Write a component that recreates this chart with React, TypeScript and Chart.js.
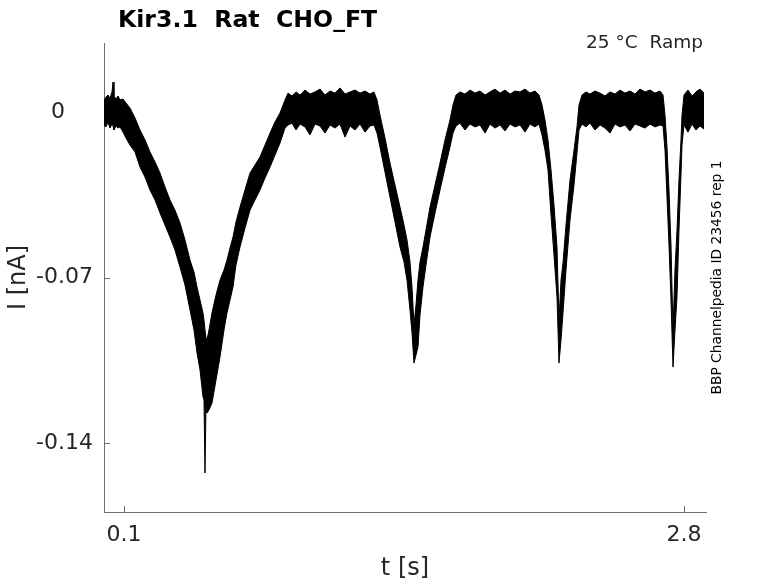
import { useEffect, useRef } from 'react'
import { Chart, registerables } from 'chart.js'

Chart.register(...registerables)

// time [s] and the upper / lower edge of the noisy current trace [nA]
const T = [
  0.0036, 0.0132, 0.0229, 0.0325, 0.0422, 0.0470, 0.0518, 0.0615, 0.0711, 0.0807,
  0.0952, 0.1097, 0.1290, 0.1531, 0.1772, 0.2013, 0.2254, 0.2495, 0.2736, 0.2977,
  0.3218, 0.3459, 0.3700, 0.3941, 0.4182, 0.4375, 0.4520, 0.4665, 0.4809, 0.4857,
  0.4906, 0.4954, 0.5002, 0.5098, 0.5243, 0.5436, 0.5629, 0.5822, 0.5966, 0.6111,
  0.6256, 0.6400, 0.6593, 0.6834, 0.7075, 0.7316, 0.7557, 0.7798, 0.8040, 0.8281,
  0.8522, 0.8763, 0.8907, 0.9100, 0.9293, 0.9486, 0.9727, 0.9968, 1.0209, 1.0450,
  1.0691, 1.0932, 1.1173, 1.1414, 1.1656, 1.1897, 1.2138, 1.2379, 1.2620, 1.2861,
  1.3054, 1.3198, 1.3343, 1.3584, 1.3825, 1.4066, 1.4307, 1.4500, 1.4645, 1.4789,
  1.4886, 1.4982, 1.5079, 1.5175, 1.5272, 1.5416, 1.5561, 1.5754, 1.5995, 1.6236,
  1.6477, 1.6718, 1.6863, 1.7007, 1.7200, 1.7441, 1.7682, 1.7923, 1.8164, 1.8406,
  1.8647, 1.8888, 1.9129, 1.9370, 1.9611, 1.9852, 2.0093, 2.0334, 2.0575, 2.0816,
  2.1009, 2.1154, 2.1298, 2.1443, 2.1588, 2.1732, 2.1877, 2.1973, 2.2070, 2.2166,
  2.2311, 2.2504, 2.2697, 2.2841, 2.2938, 2.3082, 2.3275, 2.3468, 2.3709, 2.3950,
  2.4191, 2.4432, 2.4673, 2.4914, 2.5155, 2.5397, 2.5638, 2.5879, 2.6120, 2.6361,
  2.6602, 2.6843, 2.6988, 2.7084, 2.7180, 2.7277, 2.7373, 2.7470, 2.7566, 2.7663,
  2.7759, 2.7855, 2.7904, 2.8000, 2.8193, 2.8386, 2.8579, 2.8770, 2.8964,
]
const I_HIGH = [
  0.0051, 0.0063, 0.0072, 0.0059, 0.0085, 0.0127, 0.0068, 0.0055, 0.0068, 0.0051,
  0.0055, 0.0038, 0.0017, -0.0025, -0.0076, -0.0118, -0.0169, -0.0211, -0.0258, -0.0317,
  -0.0372, -0.0415, -0.0469, -0.0541, -0.0626, -0.0677, -0.0740, -0.0795, -0.0850, -0.0880,
  -0.0922, -0.0956, -0.0964, -0.0922, -0.0850, -0.0774, -0.0711, -0.0668, -0.0626, -0.0575,
  -0.0529, -0.0465, -0.0402, -0.0330, -0.0258, -0.0224, -0.0190, -0.0140, -0.0089, -0.0042,
  -0.0004, 0.0051, 0.0080, 0.0068, 0.0085, 0.0072, 0.0093, 0.0076, 0.0085, 0.0097,
  0.0072, 0.0089, 0.0080, 0.0102, 0.0076, 0.0085, 0.0093, 0.0080, 0.0089, 0.0076,
  0.0085, 0.0051, -0.0013, -0.0110, -0.0216, -0.0309, -0.0402, -0.0478, -0.0541, -0.0634,
  -0.0740, -0.0901, -0.0816, -0.0711, -0.0634, -0.0571, -0.0499, -0.0402, -0.0309, -0.0216,
  -0.0118, -0.0034, 0.0030, 0.0072, 0.0085, 0.0076, 0.0093, 0.0080, 0.0089, 0.0072,
  0.0085, 0.0097, 0.0080, 0.0093, 0.0076, 0.0089, 0.0085, 0.0097, 0.0080, 0.0089,
  0.0072, 0.0030, -0.0034, -0.0118, -0.0245, -0.0393, -0.0571, -0.0880, -0.0711, -0.0639,
  -0.0478, -0.0288, -0.0161, -0.0063, 0.0030, 0.0072, 0.0085, 0.0076, 0.0089, 0.0080,
  0.0068, 0.0085, 0.0076, 0.0093, 0.0080, 0.0089, 0.0076, 0.0097, 0.0085, 0.0093,
  0.0080, 0.0089, 0.0072, -0.0013, -0.0148, -0.0330, -0.0563, -0.0922, -0.0668, -0.0499,
  -0.0288, -0.0118, -0.0013, 0.0072, 0.0093, 0.0068, 0.0085, 0.0097, 0.0080,
]
const I_LOW = [
  -0.0055, -0.0063, -0.0042, -0.0068, -0.0051, -0.0059, -0.0076, -0.0059, -0.0068, -0.0063,
  -0.0085, -0.0110, -0.0140, -0.0169, -0.0233, -0.0275, -0.0330, -0.0372, -0.0427, -0.0478,
  -0.0529, -0.0584, -0.0656, -0.0732, -0.0837, -0.0922, -0.1019, -0.1091, -0.1205, -0.1218,
  -0.1527, -0.1239, -0.1273, -0.1260, -0.1231, -0.1134, -0.1036, -0.0922, -0.0850, -0.0795,
  -0.0740, -0.0647, -0.0571, -0.0491, -0.0415, -0.0372, -0.0330, -0.0279, -0.0233, -0.0182,
  -0.0131, -0.0068, -0.0055, -0.0047, -0.0076, -0.0051, -0.0063, -0.0097, -0.0051, -0.0059,
  -0.0089, -0.0055, -0.0068, -0.0051, -0.0106, -0.0059, -0.0076, -0.0051, -0.0085, -0.0059,
  -0.0055, -0.0089, -0.0148, -0.0254, -0.0360, -0.0465, -0.0571, -0.0634, -0.0711, -0.0837,
  -0.0935, -0.1062, -0.1028, -0.0994, -0.0859, -0.0740, -0.0647, -0.0529, -0.0427, -0.0330,
  -0.0237, -0.0148, -0.0089, -0.0059, -0.0047, -0.0076, -0.0051, -0.0063, -0.0055, -0.0089,
  -0.0051, -0.0068, -0.0055, -0.0080, -0.0051, -0.0063, -0.0055, -0.0085, -0.0051, -0.0063,
  -0.0051, -0.0097, -0.0161, -0.0245, -0.0436, -0.0605, -0.0782, -0.1062, -0.0964, -0.0850,
  -0.0668, -0.0457, -0.0309, -0.0173, -0.0076, -0.0051, -0.0063, -0.0047, -0.0076, -0.0055,
  -0.0068, -0.0089, -0.0051, -0.0063, -0.0055, -0.0080, -0.0051, -0.0059, -0.0068, -0.0051,
  -0.0063, -0.0055, -0.0059, -0.0161, -0.0360, -0.0563, -0.0795, -0.1079, -0.0922, -0.0782,
  -0.0499, -0.0266, -0.0140, -0.0055, -0.0085, -0.0051, -0.0076, -0.0059, -0.0072,
]

const X_TICKS = [0.1, 2.8]
const Y_TICKS = [-0.14, -0.07, 0]
const Y_TICK_LABELS = ['-0.14', '-0.07', '0    ']
const X_MIN = 0.0036
const X_MAX = 2.9061
const Y_MIN = -0.1692
const Y_MAX = 0.0292

const TITLE = 'Kir3.1  Rat  CHO_FT'
const CONDITION = '25 °C  Ramp'
const SOURCE = 'BBP Channelpedia ID 23456 rep 1'

const FONT = "'DejaVu Sans', 'Liberation Sans', sans-serif"
const TEXT = '#262626'
const AXIS = '#6e6e6e'

// small inward ticks, drawn under the trace; header and side notes on top
const decorations = {
  id: 'decorations',
  beforeDatasetsDraw(chart: Chart) {
    const { ctx, chartArea: a, scales } = chart
    ctx.save()
    ctx.strokeStyle = AXIS
    ctx.lineWidth = 1
    ctx.beginPath()
    Y_TICKS.forEach(v => {
      const y = Math.round(scales.y.getPixelForValue(v)) + 0.5
      ctx.moveTo(a.left, y)
      ctx.lineTo(a.left + 6, y)
    })
    X_TICKS.forEach(v => {
      const x = Math.round(scales.x.getPixelForValue(v)) + 0.5
      ctx.moveTo(x, a.bottom)
      ctx.lineTo(x, a.bottom - 6)
    })
    ctx.stroke()
    ctx.restore()
  },
  afterDraw(chart: Chart) {
    const { ctx, chartArea: a } = chart
    ctx.save()
    ctx.fillStyle = '#000'
    ctx.font = `bold 23.6px ${FONT}`
    ctx.textAlign = 'left'
    ctx.textBaseline = 'alphabetic'
    ctx.fillText(TITLE, a.left + 14, 27)

    ctx.fillStyle = TEXT
    ctx.font = `18.5px ${FONT}`
    ctx.textAlign = 'right'
    ctx.fillText(CONDITION, a.right - 3, 48)

    ctx.fillStyle = '#000'
    ctx.font = `13.8px ${FONT}`
    ctx.translate(a.right + 11, (a.top + a.bottom) / 2)
    ctx.rotate(-Math.PI / 2)
    ctx.textAlign = 'center'
    ctx.textBaseline = 'middle'
    ctx.fillText(SOURCE, 0, 0)
    ctx.restore()
  },
}

export default function App() {
  const canvasRef = useRef<HTMLCanvasElement>(null)
  const chartRef = useRef<Chart | null>(null)

  useEffect(() => {
    if (!canvasRef.current) return
    chartRef.current?.destroy()

    const low = T.map((t, i) => ({ x: t, y: I_LOW[i] }))
    const high = T.map((t, i) => ({ x: t, y: I_HIGH[i] }))

    chartRef.current = new Chart(canvasRef.current, {
      type: 'line',
      data: {
        datasets: [
          {
            label: 'I low',
            data: low,
            borderColor: '#000',
            borderWidth: 1,
            pointRadius: 0,
            tension: 0,
            fill: false,
          },
          {
            label: 'I high',
            data: high,
            borderColor: '#000',
            backgroundColor: '#000',
            borderWidth: 1,
            pointRadius: 0,
            tension: 0,
            fill: '-1',
          },
        ],
      },
      options: {
        responsive: false,
        animation: false,
        layout: { padding: { top: 43, right: 72, left: 0, bottom: 0 } },
        plugins: {
          legend: { display: false },
          tooltip: { enabled: false },
        },
        scales: {
          x: {
            type: 'linear',
            min: X_MIN,
            max: X_MAX,
            grid: { display: false, drawTicks: false },
            border: { display: true, color: AXIS, width: 1 },
            afterBuildTicks: s => { s.ticks = X_TICKS.map(v => ({ value: v })) },
            afterFit: s => { s.height = 71 },
            ticks: {
              color: TEXT,
              padding: 10,
              maxRotation: 0,
              font: { family: FONT, size: 22 },
              callback: v => String(v),
            },
            title: {
              display: true,
              text: 't [s]',
              color: TEXT,
              font: { family: FONT, size: 24 },
              padding: { top: 0, bottom: 0 },
            },
          },
          y: {
            type: 'linear',
            min: Y_MIN,
            max: Y_MAX,
            grid: { display: false, drawTicks: false },
            border: { display: true, color: AXIS, width: 1 },
            afterBuildTicks: s => { s.ticks = Y_TICKS.map(v => ({ value: v })) },
            afterFit: s => { s.width = 104 },
            ticks: {
              color: TEXT,
              padding: 11,
              font: { family: FONT, size: 22 },
              callback: (_v, i) => Y_TICK_LABELS[i],
            },
            title: {
              display: true,
              text: 'I [nA]',
              color: TEXT,
              font: { family: FONT, size: 24 },
              padding: { top: 4, bottom: 0 },
            },
          },
        },
      },
      plugins: [decorations],
    })

    return () => { chartRef.current?.destroy() }
  }, [])

  return (
    <div style={{ position: 'fixed', left: 0, top: 0, width: 778, height: 583, background: '#fff' }}>
      <canvas ref={canvasRef} width={778} height={583} />
    </div>
  )
}
